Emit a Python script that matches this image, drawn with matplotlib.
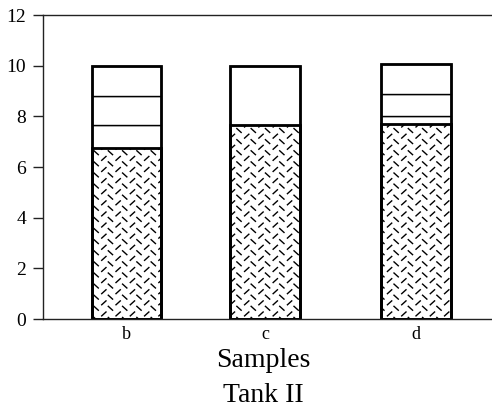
import matplotlib
matplotlib.use("Agg")
import matplotlib.pyplot as plt
import matplotlib.hatch as mhatch
from matplotlib.path import Path

# Samples and stacked segment heights (bottom segment is the textured one)
samples = ["b", "c", "d"]
b_segments = [6.75, 0.90, 1.17, 1.18]
c_segments = [7.65, 2.35]
d_segments = [7.70, 0.30, 0.88, 1.20]
yticks = [0, 2, 4, 6, 8, 10, 12]


class DashHatch(mhatch.HatchPatternBase):
    """Short crossed dashes, one '/' and one '\\' per cell."""
    segs = [((0.12, 0.57), (0.42, 0.92)), ((0.58, 0.43), (0.88, 0.08))]

    def __init__(self, hatch, density):
        if '/' in hatch:
            self.nx = int(hatch.count('/') * density + 1)
            self.ny = int(self.nx * 1.4)
        else:
            self.nx = self.ny = 0
        self.num_vertices = self.nx * self.ny * len(self.segs) * 2

    def set_vertices_and_codes(self, vertices, codes):
        sx = 1.0 / self.nx
        sy = 1.0 / self.ny
        k = 0
        for i in range(self.nx):
            for j in range(self.ny):
                for (x0, y0), (x1, y1) in self.segs:
                    vertices[k] = ((i + x0) * sx, (j + y0) * sy)
                    vertices[k + 1] = ((i + x1) * sx, (j + y1) * sy)
                    codes[k] = Path.MOVETO
                    codes[k + 1] = Path.LINETO
                    k += 2


mhatch._hatch_types = [DashHatch]

plt.rcParams['font.family'] = ['Liberation Serif', 'DejaVu Serif']
plt.rcParams['hatch.linewidth'] = 1.0

fig = plt.figure(figsize=(4.92, 4.17), dpi=100)
ax = fig.add_axes([43 / 492, 98 / 417, 449 / 492, 304 / 417])

positions = [0.745, 1.98, 3.325]
width = 0.62

for x, segs in zip(positions, [b_segments, c_segments, d_segments]):
    bottom = 0.0
    for i, h in enumerate(segs):
        if i == 0:
            ax.bar(x, h, width, bottom=bottom, facecolor="white",
                   edgecolor="black", hatch="/", linewidth=0)
        else:
            ax.bar(x, h, width, bottom=bottom, facecolor="white",
                   edgecolor="black", linewidth=1.0)
        bottom += h
    # boundary above the textured part and the outer outline
    ax.bar(x, segs[0], width, fill=False, edgecolor="black", linewidth=2.0)
    ax.bar(x, sum(segs), width, fill=False, edgecolor="black", linewidth=2.0)

ax.set_xlim(0, 4)
ax.set_ylim(0, 12)
ax.set_yticks(yticks)
ax.set_xticks(positions)
ax.set_xticklabels(samples)

for side in ["left", "bottom", "top"]:
    ax.spines[side].set_linewidth(1.0)
    ax.spines[side].set_color("#222222")
ax.spines["right"].set_visible(False)

ax.tick_params(axis="y", direction="out", length=7, width=1.0,
               labelsize=14, pad=5, colors="#222222", labelcolor="black")
ax.tick_params(axis="x", length=0, labelsize=13, pad=5)

ax.set_xlabel("Samples", fontsize=20, labelpad=0)
ax.xaxis.set_label_coords(0.49, -0.095)
fig.text(263 / 492, 15 / 417, "Tank II", ha="center", va="baseline",
         fontsize=20)

fig.savefig("out.png", dpi=100)
